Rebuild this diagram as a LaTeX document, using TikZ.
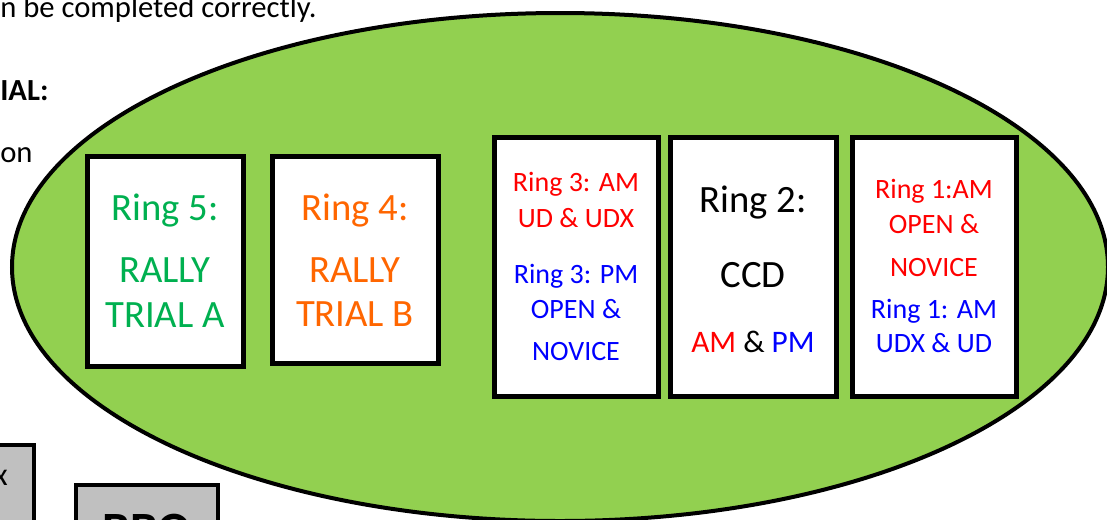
\documentclass[tikz,border=0pt]{standalone}
\usepackage{fontspec}
\setmainfont{Carlito}
\usetikzlibrary{shapes.geometric}
\definecolor{fieldgreen}{HTML}{92D050}
\definecolor{ringgreen}{HTML}{00B050}
\definecolor{ringorange}{HTML}{FF6600}
\definecolor{ringred}{HTML}{FF0000}
\definecolor{ringblue}{HTML}{0000FF}
\definecolor{boothgray}{HTML}{C0C0C0}
\begin{document}
\begin{tikzpicture}[x=0.75pt,y=-0.75pt,
  ringbox/.style={draw=black,fill=white,line width=3.75pt,inner sep=0pt,rectangle},
  big/.style={font=\fontsize{29}{34}\selectfont,anchor=base,inner sep=0pt},
  small/.style={font=\fontsize{21}{25}\selectfont,anchor=base,inner sep=0pt},
  mid/.style={font=\fontsize{23.5}{28}\selectfont,anchor=base,inner sep=0pt},
  page/.style={font=\fontsize{23}{28}\selectfont,anchor=base west,inner sep=0pt},
  booth/.style={draw=black,fill=boothgray,line width=3pt}]
\useasboundingbox (0,0) rectangle (1107,519);
% page text
\node[page] (t1) at (0,17) {n be completed correctly.};
\node[page,font=\fontsize{23}{28}\selectfont\bfseries] (t2) at (0,100) {IAL:};
\node[page] (t3) at (0,162) {on};
% booths
\draw[booth] (-100,445) rectangle (34,600);
\node[font=\fontsize{24}{28}\selectfont,anchor=base east,inner sep=0pt] (bx) at (8,485) {x};
\draw[booth] (76,485) rectangle (218,600);
\node[font=\fontsize{37}{44}\selectfont\bfseries,anchor=base,inner sep=0pt] (bbq) at (147,546) {BBQ};
% field
\node[ellipse,draw=black,fill=fieldgreen,line width=3pt,inner sep=0pt,
  minimum width={1096*0.75pt},minimum height={508*0.75pt}] (field) at (560,267) {};
% ring boxes
\node[ringbox,minimum width={156*0.75pt},minimum height={210*0.75pt}] (r5) at (165,261) {};
\node[ringbox,minimum width={166*0.75pt},minimum height={207*0.75pt}] (r4) at (355,259.5) {};
\node[ringbox,minimum width={164*0.75pt},minimum height={259*0.75pt}] (r3) at (576,266.5) {};
\node[ringbox,minimum width={166*0.75pt},minimum height={259*0.75pt}] (r2) at (753,266.5) {};
\node[ringbox,minimum width={164*0.75pt},minimum height={259*0.75pt}] (r1) at (934,266.5) {};
% ring 5
\node[big,text=ringgreen] (r5a) at (165,220) {Ring 5:};
\node[big,text=ringgreen] (r5b) at (165,282) {RALLY};
\node[big,text=ringgreen] (r5c) at (165,327) {TRIAL A};
% ring 4
\node[big,text=ringorange] (r4a) at (355,220) {Ring 4:};
\node[big,text=ringorange] (r4b) at (355,282) {RALLY};
\node[big,text=ringorange] (r4c) at (355,326) {TRIAL B};
% ring 3
\node[small,text=ringred] (r3a) at (576,191) {Ring 3: AM};
\node[small,text=ringred] (r3b) at (576,227) {UD \& UDX};
\node[small,text=ringblue] (r3c) at (576,283) {Ring 3: PM};
\node[small,text=ringblue] (r3d) at (576,318) {OPEN \&};
\node[small,text=ringblue] (r3e) at (576,360) {NOVICE};
% ring 2
\node[big] (r2a) at (753,212) {Ring 2:};
\node[big] (r2b) at (753,287) {CCD};
\node[mid] (r2c) at (753,352) {\textcolor{ringred}{AM} \& \textcolor{ringblue}{PM}};
% ring 1
\node[small,text=ringred] (r1a) at (934,198) {Ring 1:AM};
\node[small,text=ringred] (r1b) at (934,233) {OPEN \&};
\node[small,text=ringred] (r1c) at (934,276) {NOVICE};
\node[small,text=ringblue] (r1d) at (934,318) {Ring 1: AM};
\node[small,text=ringblue] (r1e) at (934,352) {UDX \& UD};
\end{tikzpicture}
\end{document}
